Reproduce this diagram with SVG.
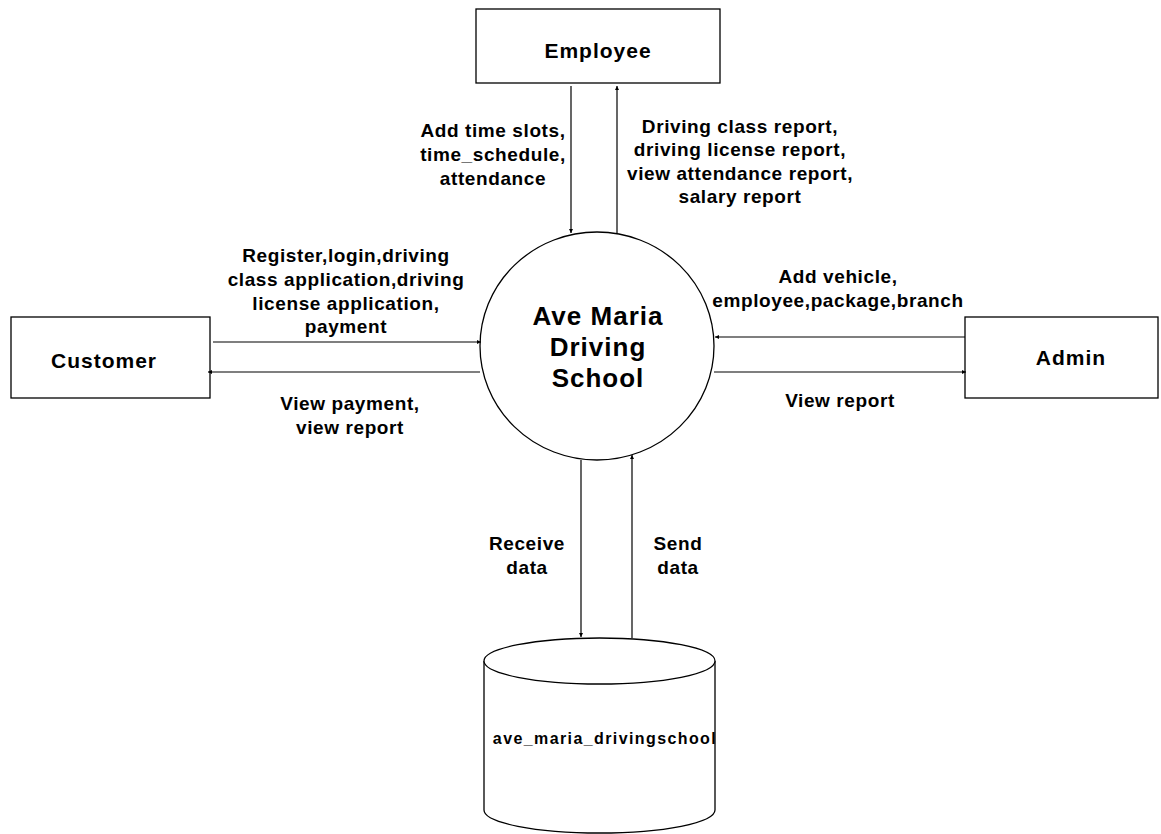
<svg xmlns="http://www.w3.org/2000/svg" width="1161" height="834" viewBox="0 0 1161 834">
<style>
.box{fill:#fff;stroke:#000;stroke-width:1.3}
.ent{font-family:"Liberation Sans",Arial,sans-serif;font-weight:bold;font-size:21px;letter-spacing:1px;text-anchor:middle;fill:#000}
.lbl{font-family:"Liberation Sans",Arial,sans-serif;font-weight:bold;font-size:19px;letter-spacing:0.6px;text-anchor:middle;fill:#000}
.proc{font-family:"Liberation Sans",Arial,sans-serif;font-weight:bold;font-size:26px;letter-spacing:1px;text-anchor:middle;fill:#000}
.db{font-family:"Liberation Sans",Arial,sans-serif;font-weight:bold;font-size:16px;letter-spacing:1.4px;text-anchor:middle;fill:#000}
.flow{fill:none;stroke:#000;stroke-width:1.2;marker-end:url(#ah)}
</style>
<defs>
<marker id="ah" viewBox="0 0 6 6" refX="6" refY="3" markerWidth="4" markerHeight="4" orient="auto" markerUnits="userSpaceOnUse">
<path d="M0,0 L6,3 L0,6 z" fill="#000"/>
</marker>
</defs>
<rect width="1161" height="834" fill="#fff"/>
<g id="employee">
<rect class="box" x="476" y="9" width="244" height="74"/>
<text class="ent" x="598" y="58">Employee</text>
</g>
<g id="customer">
<rect class="box" x="11" y="317" width="199" height="81"/>
<text class="ent" x="104" y="368">Customer</text>
</g>
<g id="admin">
<rect class="box" x="965" y="317" width="193" height="81"/>
<text class="ent" x="1071" y="365">Admin</text>
</g>
<g id="process">
<ellipse class="box" cx="597" cy="346" rx="117" ry="114"/>
<text class="proc" x="598" y="325">Ave Maria</text>
<text class="proc" x="598" y="356">Driving</text>
<text class="proc" x="598" y="387">School</text>
</g>
<g id="datastore">
<path class="box" d="M484,661 L484,810 A115.5,23 0 0 0 715,810 L715,661"/>
<ellipse class="box" cx="599.5" cy="661" rx="115.5" ry="23"/>
<text class="db" x="605" y="744">ave_maria_drivingschool</text>
</g>
<g id="connectors">
<line class="flow" x1="571" y1="86" x2="571" y2="233"/>
<line class="flow" x1="617" y1="233" x2="617" y2="86"/>
<line class="flow" x1="213" y1="342" x2="481" y2="342"/>
<line class="flow" x1="480" y1="372" x2="208" y2="372"/>
<line class="flow" x1="965" y1="337" x2="715" y2="337"/>
<line class="flow" x1="714" y1="372" x2="966" y2="372"/>
<line class="flow" x1="581" y1="460" x2="581" y2="637"/>
<line class="flow" x1="632" y1="638" x2="632" y2="455"/>
</g>
<g id="labels">
<text class="lbl" x="493" y="137">Add time slots,</text>
<text class="lbl" x="493" y="161">time_schedule,</text>
<text class="lbl" x="493" y="185">attendance</text>
<text class="lbl" x="740" y="133">Driving class report,</text>
<text class="lbl" x="740" y="156">driving license report,</text>
<text class="lbl" x="740" y="180">view attendance report,</text>
<text class="lbl" x="740" y="203">salary report</text>
<text class="lbl" x="346" y="262">Register,login,driving</text>
<text class="lbl" x="346" y="286">class application,driving</text>
<text class="lbl" x="346" y="310">license application,</text>
<text class="lbl" x="346" y="333">payment</text>
<text class="lbl" x="350" y="410">View payment,</text>
<text class="lbl" x="350" y="434">view report</text>
<text class="lbl" x="838" y="283">Add vehicle,</text>
<text class="lbl" x="838" y="307">employee,package,branch</text>
<text class="lbl" x="840" y="407">View report</text>
<text class="lbl" x="527" y="550">Receive</text>
<text class="lbl" x="527" y="574">data</text>
<text class="lbl" x="678" y="550">Send</text>
<text class="lbl" x="678" y="574">data</text>
</g>
</svg>
